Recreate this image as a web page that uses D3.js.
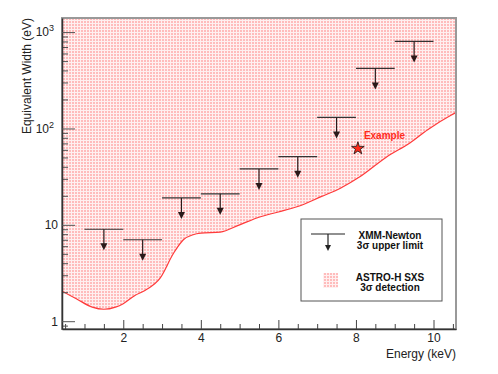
<!DOCTYPE html>
<html>
    <head>
        <title>Equivalent width limits</title>
        <script src="https://d3js.org/d3.v7.min.js" charset="utf-8"></script>
        <style>
            body {
                margin: 0;
                background: white;
                font-family: "Liberation Sans", Arial, sans-serif;
            }
            .axis text {
                font-family: "Liberation Sans", Arial, sans-serif;
                font-size: 12px;
                fill: #222;
            }
        </style>
    </head>
    <body>
        <script>
            // data
            var limitEnergy = [1.5, 2.5, 3.5, 4.5, 5.5, 6.5, 7.5, 8.5, 9.5];
            var limitEW = [9, 7, 19, 21, 38, 51, 130, 420, 800];

            // lower edge of the ASTRO-H SXS detection region
            var sxsEnergy = [0.42, 0.8, 1.2, 1.5, 1.8, 2.0, 2.3, 2.57, 2.95, 3.3, 3.55, 3.8, 4.0, 4.5, 5.0, 5.5, 6.0, 6.5, 7.1, 7.6, 8.1, 8.8, 9.4, 9.85, 10.45, 10.58];
            var sxsEW = [2.05, 1.7, 1.4, 1.33, 1.4, 1.52, 1.85, 2.1, 2.8, 5.1, 7.0, 7.9, 8.2, 8.4, 10, 12, 13.6, 15.5, 19.6, 24, 31.5, 51, 71, 97, 137, 146];

            var exampleE = 8.05;
            var exampleEW = 62;

            var xMajor = [2, 4, 6, 8, 10];
            var yMajor = [1, 10, 100, 1000];
            var yLabels = ["1", "10", "10^2", "10^3"];

            var width = 498;
            var height = 374;
            var pLeft = 62, pRight = 456, pTop = 18, pBottom = 329;

            var x = d3.scaleLinear().domain([0.42, 10.58]).range([pLeft, pRight]);
            var y = d3.scaleLog().domain([0.83, 1400]).range([pBottom, pTop]);

            var svg = d3.select("body")
                .append("svg")
                .attr("width", width)
                .attr("height", height);

            var defs = svg.append("defs");
            var pat = defs.append("pattern")
                .attr("id", "sxs")
                .attr("width", 3)
                .attr("height", 3)
                .attr("patternUnits", "userSpaceOnUse");
            pat.append("rect").attr("width", 3).attr("height", 3).attr("fill", "#fff0f0");
            pat.append("rect").attr("width", 2).attr("height", 2).attr("fill", "#ffbcbc");

            defs.append("clipPath").attr("id", "plotclip")
                .append("rect")
                .attr("x", pLeft).attr("y", pTop)
                .attr("width", pRight - pLeft).attr("height", pBottom - pTop);

            var sxs = sxsEnergy.map(function(e, i) { return [e, sxsEW[i]]; });

            var plot = svg.append("g").attr("clip-path", "url(#plotclip)");

            // shaded detection region, from the curve up to the top
            plot.append("path")
                .datum(sxs)
                .attr("fill", "url(#sxs)")
                .attr("d", d3.area()
                    .x(function(d) { return x(d[0]); })
                    .y0(pTop)
                    .y1(function(d) { return y(d[1]); })
                    .curve(d3.curveMonotoneX));

            plot.append("path")
                .datum(sxs)
                .attr("fill", "none")
                .attr("stroke", "#ff3b3b")
                .attr("stroke-width", 1.2)
                .attr("d", d3.line()
                    .x(function(d) { return x(d[0]); })
                    .y(function(d) { return y(d[1]); })
                    .curve(d3.curveMonotoneX));

            // upper limits: bar 1 keV wide, arrow downwards
            var arrowLen = 21;
            var lim = svg.append("g").selectAll("g")
                .data(limitEnergy)
                .enter()
                .append("g");

            lim.append("line")
                .attr("x1", function(d) { return x(d - 0.5); })
                .attr("x2", function(d) { return x(d + 0.5); })
                .attr("y1", function(d, i) { return y(limitEW[i]); })
                .attr("y2", function(d, i) { return y(limitEW[i]); })
                .attr("stroke", "#333")
                .attr("stroke-width", 1.2);

            lim.append("line")
                .attr("x1", function(d) { return x(d); })
                .attr("x2", function(d) { return x(d); })
                .attr("y1", function(d, i) { return y(limitEW[i]); })
                .attr("y2", function(d, i) { return y(limitEW[i]) + arrowLen - 4; })
                .attr("stroke", "#2a1a1a")
                .attr("stroke-width", 1.2);

            lim.append("path")
                .attr("fill", "#2a1a1a")
                .attr("d", function(d, i) {
                    var cx = x(d), tip = y(limitEW[i]) + arrowLen;
                    return "M" + (cx - 3.5) + "," + (tip - 7) + "L" + (cx + 3.5) + "," + (tip - 7) + "L" + cx + "," + tip + "Z";
                });

            // example star
            svg.append("path")
                .attr("transform", "translate(" + x(exampleE) + "," + y(exampleEW) + ")")
                .attr("d", d3.symbol().type(d3.symbolStar).size(50))
                .attr("fill", "#ff2a1a")
                .attr("stroke", "#111")
                .attr("stroke-width", 0.8);

            svg.append("text")
                .attr("x", x(exampleE) + 6)
                .attr("y", y(exampleEW) - 9)
                .attr("fill", "#ff2a1a")
                .attr("font-size", "10px")
                .attr("font-weight", "bold")
                .text("Example");

            // frame
            svg.append("rect")
                .attr("x", pLeft).attr("y", pTop)
                .attr("width", pRight - pLeft).attr("height", pBottom - pTop)
                .attr("fill", "none")
                .attr("stroke", "#999")
                .attr("stroke-width", 2);

            // x axis
            var xMinor = d3.range(0.5, 10.51, 0.5).filter(function(v) { return xMajor.indexOf(v) < 0; });
            svg.append("g")
                .attr("transform", "translate(0," + pBottom + ")")
                .call(d3.axisBottom(x).tickValues(xMinor).tickSize(-5).tickSizeOuter(0).tickFormat(""))
                .call(function(g) { g.select(".domain").remove(); })
                .selectAll("line").attr("stroke", "#444");

            var xAxis = svg.append("g")
                .attr("class", "axis")
                .attr("transform", "translate(0," + pBottom + ")")
                .call(d3.axisBottom(x).tickValues(xMajor).tickSize(-9).tickSizeOuter(0).tickPadding(4).tickFormat(d3.format("d")));
            xAxis.select(".domain").attr("stroke", "#333").attr("stroke-width", 1.5);
            xAxis.selectAll("line").attr("stroke", "#444");
            xAxis.selectAll("text").attr("fill", "#222");

            // y axis
            var yMinor = [];
            [0.1, 1, 10, 100, 1000].forEach(function(dec) {
                for (var k = 2; k <= 9; k++) yMinor.push(dec * k);
            });
            yMinor = yMinor.filter(function(v) { return v >= 0.83 && v <= 1400; });
            svg.append("g")
                .attr("transform", "translate(" + pLeft + ",0)")
                .call(d3.axisLeft(y).tickValues(yMinor).tickSize(-6).tickSizeOuter(0).tickFormat(""))
                .call(function(g) { g.select(".domain").remove(); })
                .selectAll("line").attr("stroke", "#555");

            var yAxis = svg.append("g")
                .attr("class", "axis")
                .attr("transform", "translate(" + pLeft + ",0)")
                .call(d3.axisLeft(y).tickValues(yMajor).tickSize(-13).tickSizeOuter(0).tickPadding(4).tickFormat(""));
            yAxis.select(".domain").attr("stroke", "#333").attr("stroke-width", 1.5);
            yAxis.selectAll("line").attr("stroke", "#555");
            yAxis.selectAll(".tick text").each(function(d, i) {
                var parts = yLabels[i].split("^");
                var t = d3.select(this);
                t.text(parts[0]);
                if (parts.length > 1) {
                    t.attr("dx", "-4px");
                    t.append("tspan")
                        .attr("dy", "-5")
                        .attr("font-size", "9px")
                        .text(parts[1]);
                }
            });

            // axis titles
            svg.append("text")
                .attr("transform", "translate(31," + pTop + ") rotate(-90)")
                .attr("text-anchor", "end")
                .attr("font-size", "12px")
                .attr("fill", "#222")
                .text("Equivalent Width (eV)");

            svg.append("text")
                .attr("x", pRight)
                .attr("y", 358)
                .attr("text-anchor", "end")
                .attr("font-size", "12px")
                .attr("fill", "#222")
                .text("Energy (keV)");

            // legend
            var lg = svg.append("g");
            lg.append("rect")
                .attr("x", 301).attr("y", 219)
                .attr("width", 141).attr("height", 82)
                .attr("fill", "white")
                .attr("stroke", "#555")
                .attr("stroke-width", 1);
            lg.append("line")
                .attr("x1", 311).attr("x2", 345).attr("y1", 234).attr("y2", 234)
                .attr("stroke", "#222").attr("stroke-width", 1.2);
            lg.append("line")
                .attr("x1", 328).attr("x2", 328).attr("y1", 234).attr("y2", 246)
                .attr("stroke", "#222").attr("stroke-width", 1.2);
            lg.append("path")
                .attr("d", "M325,245L331,245L328,251Z")
                .attr("fill", "#222");
            lg.append("rect")
                .attr("x", 323).attr("y", 273)
                .attr("width", 15).attr("height", 15)
                .attr("fill", "url(#sxs)");

            var legendText = [
                ["XMM-Newton", 239], ["3σ upper limit", 249],
                ["ASTRO-H SXS", 281], ["3σ detection", 291]
            ];
            lg.selectAll("text.lt")
                .data(legendText)
                .enter()
                .append("text")
                .attr("class", "lt")
                .attr("x", 390)
                .attr("y", function(d) { return d[1]; })
                .attr("text-anchor", "middle")
                .attr("font-size", "10px")
                .attr("font-weight", "bold")
                .attr("fill", "#111")
                .text(function(d) { return d[0]; });
        </script>
    </body>
</html>
